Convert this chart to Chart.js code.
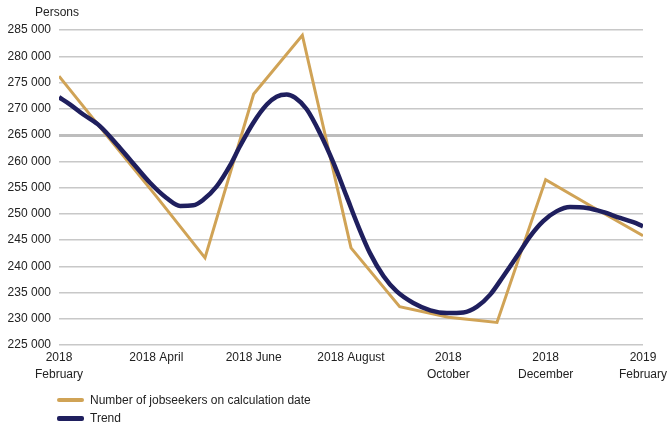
<!DOCTYPE html>
<html>
<head>
<meta charset="utf-8">
<script src="https://cdn.jsdelivr.net/npm/chart.js@4/dist/chart.umd.min.js"></script>
<style>
  html, body { margin: 0; padding: 0; background: #fff; }
  #wrap { position: relative; width: 667px; height: 425px; font-family: "Liberation Sans", Arial, sans-serif; color: #222; }
  #c { position: absolute; left: 0; top: 0; }
  #unit { position: absolute; left: 35px; top: 5px; font-size: 12px; }
  #legend { position: absolute; left: 57px; top: 391px; font-size: 12px; }
  .li { display: flex; align-items: center; height: 18px; }
  .sw { width: 27px; height: 4px; border-radius: 2px; margin-right: 6px; }
</style>
</head>
<body>
<div id="wrap">
  <canvas id="c" width="667" height="425"></canvas>
  <div id="unit">Persons</div>
  <div id="legend"></div>
</div>
<script>
// Months since 2018 February (0 = 2018 Feb, 12 = 2019 Feb)
const tickPositions = [0, 2, 4, 6, 8, 10, 12];
const tickLabels = [['2018', 'February'], '2018 April', '2018 June', '2018 August', ['2018', 'October'], ['2018', 'December'], ['2019', 'February']];

const jobseekerMonths = [0, 1, 2, 3, 4, 5, 6, 7, 8, 9, 10, 11, 12];
const jobseekerValues = [276200, 264700, 253300, 241600, 272800, 284000, 243500, 232300, 230300, 229300, 256500, 251100, 245800];

const trendMonths = [0, 0.23, 0.5, 0.84, 1.19, 1.46, 1.87, 2.21, 2.49, 2.76, 2.97, 3.24, 3.51, 3.72, 3.99, 4.27, 4.47, 4.68, 4.85, 5.09, 5.36, 5.64, 5.91, 6.15, 6.39, 6.67, 6.94, 7.28, 7.63, 7.97, 8.31, 8.59, 8.86, 9.13, 9.41, 9.68, 9.95, 10.23, 10.5, 10.85, 11.19, 11.53, 11.8, 12];
const trendValues = [272200, 270800, 268900, 266700, 263200, 260300, 255900, 253000, 251500, 251600, 252700, 255200, 259100, 262900, 267300, 270800, 272300, 272700, 272100, 269900, 265400, 259700, 253300, 247600, 242500, 238100, 235200, 233000, 231600, 231100, 231200, 232300, 234600, 238100, 241900, 245700, 248600, 250500, 251300, 251100, 250300, 249200, 248400, 247600];

const seriesNames = ['Number of jobseekers on calculation date', 'Trend'];
const seriesColors = ['#D0A356', '#1F1F5E'];

const toPoints = (xs, ys) => xs.map((x, i) => ({ x: x, y: ys[i] }));

const chart = new Chart(document.getElementById('c'), {
  type: 'line',
  data: {
    datasets: [
      {
        label: seriesNames[0],
        data: toPoints(jobseekerMonths, jobseekerValues),
        borderColor: seriesColors[0],
        backgroundColor: seriesColors[0],
        borderWidth: 3,
        pointRadius: 0,
        tension: 0,
        order: 2
      },
      {
        label: seriesNames[1],
        data: toPoints(trendMonths, trendValues),
        borderColor: seriesColors[1],
        backgroundColor: seriesColors[1],
        borderWidth: 4.5,
        pointRadius: 0,
        tension: 0.4,
        cubicInterpolationMode: 'monotone',
        order: 1
      }
    ]
  },
  options: {
    responsive: false,
    animation: false,
    layout: { padding: { left: 0, right: 24, top: 30, bottom: 40 } },
    plugins: {
      legend: { display: false },
      tooltip: { enabled: false }
    },
    scales: {
      x: {
        type: 'linear',
        min: 0,
        max: 12,
        afterBuildTicks: (scale) => { scale.ticks = tickPositions.map(v => ({ value: v })); },
        afterFit: (scale) => { scale.height = 40; scale.paddingRight = 0; scale.paddingLeft = 0; },
        ticks: {
          autoSkip: false,
          maxRotation: 0,
          padding: 4,
          color: '#222',
          font: { family: '"Liberation Sans", Arial, sans-serif', size: 12, lineHeight: 1.4 },
          callback: (value) => {
            const i = tickPositions.indexOf(value);
            return i >= 0 ? tickLabels[i] : '';
          }
        },
        grid: { display: false, drawTicks: false },
        border: { display: false }
      },
      y: {
        min: 225000,
        max: 285000,
        afterFit: (scale) => { scale.width = 59; },
        ticks: {
          stepSize: 5000,
          padding: 8,
          color: '#222',
          font: { family: '"Liberation Sans", Arial, sans-serif', size: 12 },
          callback: (v) => String(v).replace(/\B(?=(\d{3})+(?!\d))/g, ' ')
        },
        grid: {
          drawTicks: false,
          color: (ctx) => ctx.tick && ctx.tick.value === 265000 ? '#bdbdbd' : '#c8c8c8',
          lineWidth: (ctx) => ctx.tick && ctx.tick.value === 265000 ? 3 : 1.5
        },
        border: { display: false }
      }
    }
  }
});

// HTML legend built from the chart's datasets
const legend = document.getElementById('legend');
chart.data.datasets.forEach((ds) => {
  const row = document.createElement('div');
  row.className = 'li';
  const sw = document.createElement('span');
  sw.className = 'sw';
  sw.style.background = ds.borderColor;
  sw.style.height = (ds.borderWidth >= 4 ? 5 : 4) + 'px';
  const tx = document.createElement('span');
  tx.textContent = ds.label;
  row.appendChild(sw);
  row.appendChild(tx);
  legend.appendChild(row);
});
</script>
</body>
</html>
